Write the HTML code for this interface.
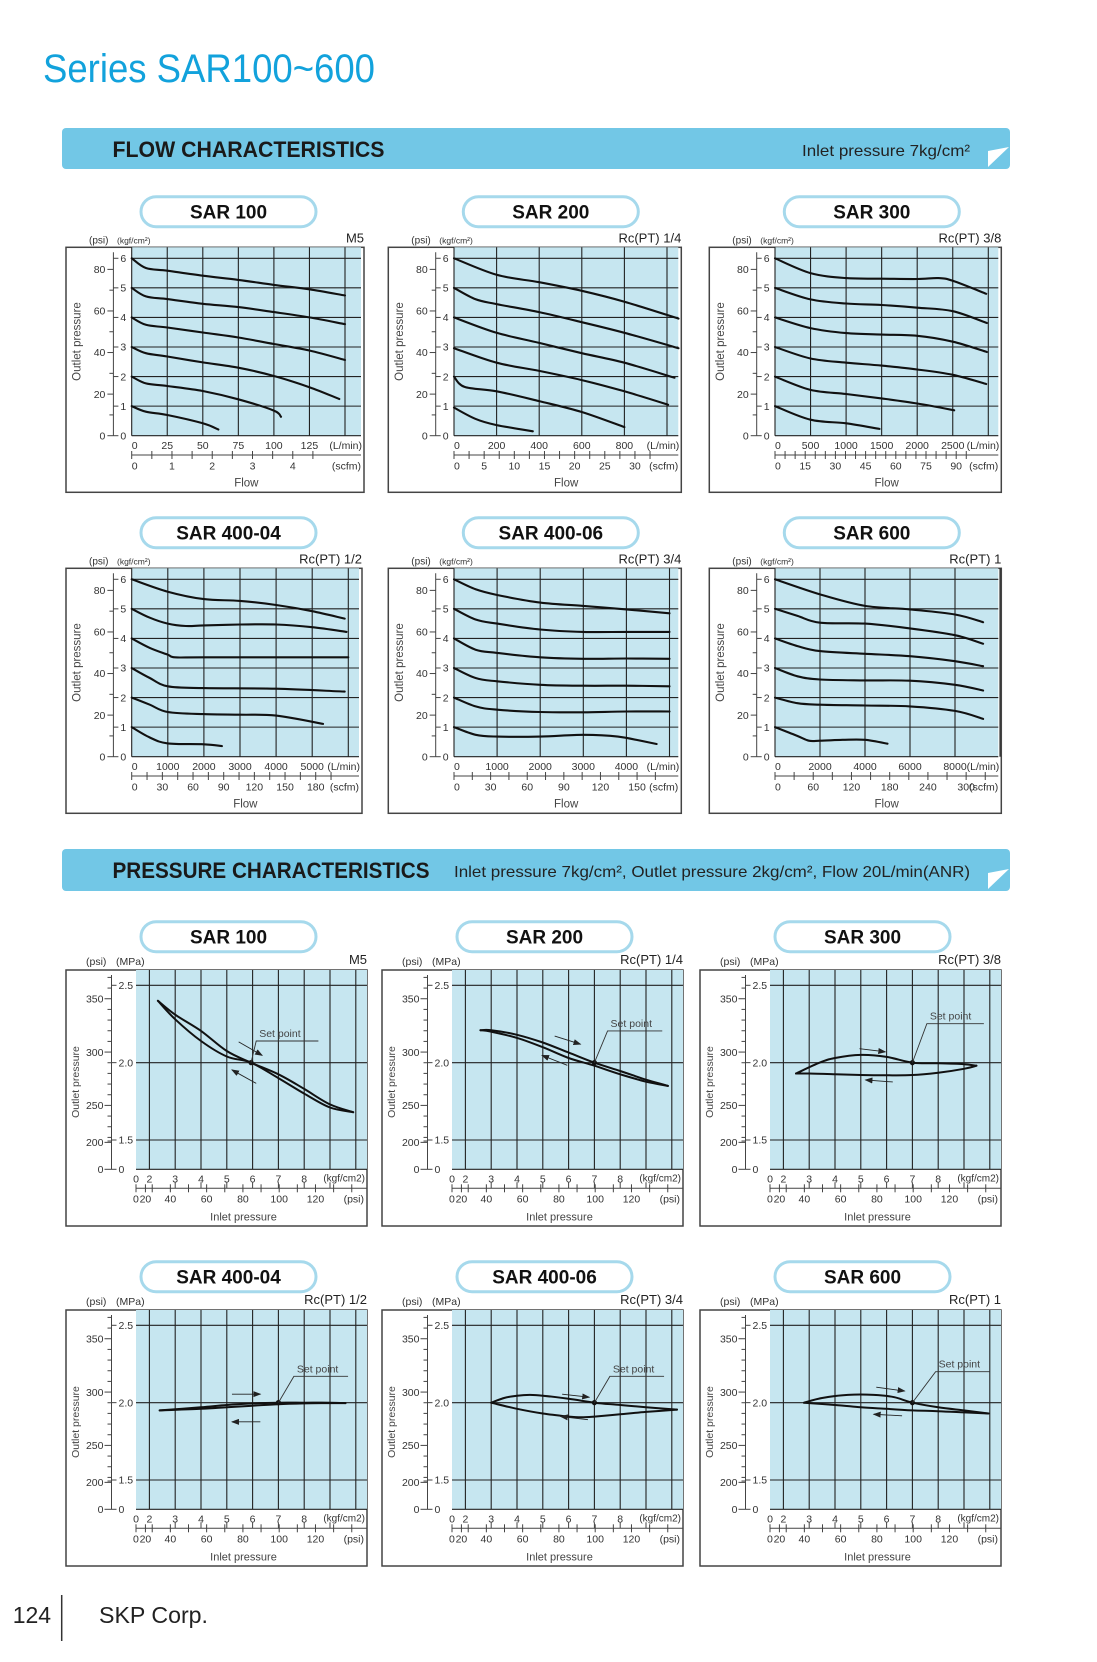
<!DOCTYPE html>
<html><head><meta charset="utf-8"><style>
html,body{margin:0;padding:0;background:#fff;}
svg{display:block;font-family:"Liberation Sans","NanumGothic",sans-serif;}
</style></head><body>
<svg id="page" xmlns="http://www.w3.org/2000/svg" width="1097" height="1662" viewBox="0 0 1097 1662">
<defs><marker id="ah" markerWidth="8" markerHeight="6" refX="7" refY="3" orient="auto" markerUnits="userSpaceOnUse"><path d="M0,0 L8,3 L0,6 z" fill="#222"/></marker></defs>
<text x="43" y="82" font-size="40" fill="#12a2dc" textLength="332" lengthAdjust="spacingAndGlyphs">Series SAR100~600</text>
<g>
<rect x="62" y="128" width="948" height="41" rx="4" fill="#72c7e6"/>
<text x="112.5" y="157" font-size="22" font-weight="bold" fill="#1a1a1a" textLength="272" lengthAdjust="spacingAndGlyphs">FLOW CHARACTERISTICS</text>
<text x="802" y="156" font-size="16" fill="#222" textLength="168" lengthAdjust="spacingAndGlyphs">Inlet pressure 7kg/cm²</text>
<polygon points="988,151 1009,147 988,167" fill="#fff"/>
</g>
<g>
<rect x="62" y="849" width="948" height="42" rx="4" fill="#72c7e6"/>
<text x="112.5" y="878" font-size="22" font-weight="bold" fill="#1a1a1a" textLength="317" lengthAdjust="spacingAndGlyphs">PRESSURE CHARACTERISTICS</text>
<text x="454" y="877" font-size="16" fill="#222" textLength="516" lengthAdjust="spacingAndGlyphs">Inlet pressure 7kg/cm², Outlet pressure 2kg/cm², Flow 20L/min(ANR)</text>
<polygon points="988,873 1009,869 988,889" fill="#fff"/>
</g>
<g>
<text x="12.7" y="1623" font-size="23" fill="#222">124</text>
<line x1="61.7" y1="1595" x2="61.7" y2="1641" stroke="#333" stroke-width="1.5"/>
<text x="99" y="1623" font-size="23" fill="#222" textLength="109" lengthAdjust="spacingAndGlyphs">SKP Corp.</text>
</g>
</svg>
<script>
// ---------- FLOW DATA (L/min, kgf/cm2) ----------
const flowSar100 = [
 [[0,6],[10,5.67],[25,5.58],[50,5.41],[75,5.27],[100,5.1],[125,4.95],[150,4.74]],
 [[0,5],[10,4.71],[25,4.62],[50,4.46],[75,4.35],[100,4.18],[125,4.0],[150,3.77]],
 [[0,4],[10,3.75],[25,3.66],[50,3.49],[75,3.32],[100,3.1],[125,2.88],[150,2.56]],
 [[0,3],[10,2.79],[25,2.68],[50,2.48],[75,2.3],[100,2.02],[125,1.64],[146,1.24]],
 [[0,2],[10,1.77],[25,1.68],[50,1.51],[75,1.23],[100,0.85],[105,0.64]],
 [[0,1],[10,0.81],[25,0.7],[50,0.42],[61,0.21]]
];
const flowSar200 = [
 [[0,6],[200,5.44],[400,5.19],[600,4.9],[800,4.53],[1054,3.96]],
 [[0,5],[100,4.62],[200,4.45],[400,4.18],[600,3.84],[800,3.48],[1054,2.96]],
 [[0,4],[200,3.48],[400,3.14],[600,2.79],[800,2.47],[1035,1.96]],
 [[0,2.96],[200,2.47],[400,2.19],[600,1.88],[800,1.5],[1005,1.05]],
 [[0,2],[50,1.65],[200,1.5],[400,1.17],[600,0.8],[800,0.29]],
 [[0,0.95],[100,0.57],[200,0.36],[370,0.15]]
];
const flowSar300 = [
 [[0,6],[500,5.5],[1000,5.33],[1500,5.31],[2000,5.3],[2300,5.33],[2500,5.24],[2970,4.8]],
 [[0,5],[500,4.61],[1000,4.47],[1500,4.42],[2000,4.33],[2500,4.21],[2980,3.81]],
 [[0,4],[500,3.64],[1000,3.47],[1500,3.42],[2000,3.38],[2500,3.18],[2980,2.83]],
 [[0,3],[500,2.61],[1000,2.47],[1500,2.37],[2000,2.24],[2500,2.06],[2970,1.75]],
 [[0,2],[500,1.55],[1000,1.41],[1500,1.26],[2000,1.09],[2520,0.86]],
 [[0,1],[500,0.54],[1000,0.42],[1470,0.23]]
];
const flowSar40004 = [
 [[0,6],[1000,5.58],[2000,5.33],[3000,5.27],[4000,5.13],[5000,4.92],[5900,4.67]],
 [[0,5],[500,4.7],[1000,4.5],[1500,4.42],[2000,4.44],[3000,4.47],[4000,4.47],[5000,4.38],[5950,4.22]],
 [[0,4],[500,3.68],[1000,3.45],[1200,3.36],[2000,3.36],[6000,3.36]],
 [[0,3],[500,2.66],[1000,2.38],[2000,2.32],[4000,2.3],[5900,2.2]],
 [[0,2],[500,1.76],[1000,1.51],[2000,1.44],[3000,1.42],[4000,1.39],[5300,1.11]],
 [[0,1],[500,0.65],[1000,0.45],[2000,0.42],[2500,0.36]]
];
const flowSar40006 = [
 [[0,6],[500,5.66],[1000,5.47],[2000,5.21],[3000,5.1],[4000,4.98],[5000,4.85]],
 [[0,5],[500,4.64],[1000,4.5],[2000,4.3],[3000,4.22],[4000,4.22],[5000,4.22]],
 [[0,4],[500,3.62],[1000,3.51],[2000,3.36],[3000,3.31],[4000,3.32],[5000,3.31]],
 [[0,3],[500,2.66],[1000,2.55],[2000,2.43],[3000,2.4],[4000,2.4],[5000,2.38]],
 [[0,2],[500,1.7],[1000,1.59],[2000,1.51],[3000,1.5],[4000,1.53],[5000,1.53]],
 [[0,1],[500,0.74],[1000,0.68],[2000,0.68],[3000,0.74],[3800,0.68],[4700,0.43]]
];
const flowSar600 = [
 [[0,6],[2000,5.49],[4000,5.1],[6000,4.98],[8000,4.81],[9250,4.55]],
 [[0,5],[1000,4.76],[2000,4.53],[4000,4.5],[6000,4.34],[8000,4.11],[9250,3.82]],
 [[0,4],[1000,3.74],[2000,3.57],[4000,3.48],[6000,3.4],[8000,3.23],[9250,3.06]],
 [[0,3],[1000,2.72],[2000,2.61],[4000,2.58],[6000,2.57],[8000,2.43],[9250,2.24]],
 [[0,2],[1000,1.81],[2000,1.76],[4000,1.73],[6000,1.7],[8000,1.55],[9250,1.28]],
 [[0,1],[1000,0.7],[1500,0.54],[2000,0.54],[3000,0.57],[4000,0.57],[5000,0.44]]
];
// tick label arrays
const sar100Lmin = [0,25,50,75,100,125];
const sar100Scfm = [0,1,2,3,4];
const sar200Lmin = [0,200,400,600,800];
const sar200Scfm = [0,5,10,15,20,25,30];
const sar300Lmin = [0,500,1000,1500,2000,2500];
const sar300Scfm = [0,15,30,45,60,75,90];
const sar40004Lmin = [0,1000,2000,3000,4000,5000];
const sar40004Scfm = [0,30,60,90,120,150,180];
const sar40006Lmin = [0,1000,2000,3000,4000];
const sar40006Scfm = [0,30,60,90,120,150];
const sar600Lmin = [0,2000,4000,6000,8000];
const sar600Scfm = [0,60,120,180,240,300];
const flowPsiTicks = [0,20,40,60,80];
const flowKgfTicks = [0,1,2,3,4,5,6];

// ---------- PRESSURE DATA (inlet kgf/cm2, outlet MPa) ----------
const presSar100Upper = [[2.33,2.40],[3,2.31],[4,2.205],[5,2.075],[5.94,2.0],[7,1.925],[8,1.83],[9,1.73],[9.9,1.68]];
const presSar100Lower = [[2.33,2.40],[3,2.28],[4,2.14],[5,2.04],[5.94,2.0],[7,1.90],[8,1.80],[9,1.71],[9.9,1.68]];
const presSar100Set = [5.94,2.0];
const presSar200Upper = [[2.58,2.21],[3,2.21],[4,2.18],[5,2.13],[6,2.065],[7,2.0],[8,1.946],[9,1.89],[9.85,1.85]];
const presSar200Lower = [[2.58,2.21],[3,2.2],[4,2.16],[5,2.1],[6,2.03],[7,1.98],[8,1.925],[9,1.877],[9.85,1.85]];
const presSar200Set = [7,2.0];
const presSar300Upper = [[2.49,1.93],[3.4,2.0],[4,2.03],[5,2.05],[6,2.037],[7,2.0],[8,1.996],[9,1.99],[9.48,1.98]];
const presSar300Lower = [[2.49,1.93],[3,1.93],[4,1.925],[5,1.92],[6,1.918],[7,1.92],[8,1.935],[9,1.96],[9.48,1.98]];
const presSar300Set = [7,2.0];
const presSar40004Upper = [[2.4,1.95],[4,1.97],[5,1.985],[6,1.995],[7,2.0],[8,2.0],[9,2.0],[9.6,1.997]];
const presSar40004Lower = [[2.4,1.95],[4,1.96],[5,1.97],[6,1.98],[7,1.99],[8,1.995],[9,1.997],[9.6,1.997]];
const presSar40004Set = [7,2.0];
const presSar40006Upper = [[3,2.0],[3.5,2.03],[4,2.045],[4.5,2.05],[5,2.045],[6,2.025],[7,2.0],[8,1.985],[9,1.97],[10.2,1.955]];
const presSar40006Lower = [[3,2.0],[4,1.96],[5,1.93],[6,1.91],[6.5,1.905],[7,1.91],[8,1.925],[9,1.94],[10.2,1.955]];
const presSar40006Set = [7,2.0];
const presSar600Upper = [[2.8,2.0],[3.5,2.03],[4.5,2.05],[5.5,2.05],[6.3,2.035],[7,2.0],[8,1.97],[9,1.95],[9.95,1.93]];
const presSar600Lower = [[2.8,2.0],[4,1.985],[5,1.97],[6,1.96],[7,1.95],[8,1.945],[9,1.937],[9.95,1.93]];
const presSar600Set = [7,2.0];
const presKgfLabels = [0,2,3,4,5,6,7,8];
const presPsiLabels = [0,20,40,60,80,100,120];
const presOutPsiLabels = [0,200,250,300,350];
const presMpaLabels = [0,1.5,2.0,2.5];

// ---------- helpers ----------
const NS='http://www.w3.org/2000/svg';
const svg=document.getElementById('page');
function mk(tag,attrs,parent){const e=document.createElementNS(NS,tag);for(const k in attrs)e.setAttribute(k,attrs[k]);(parent||svg).appendChild(e);return e;}
function tx(str,attrs,parent){const e=mk('text',attrs,parent);e.textContent=str;return e;}
function smooth(pts){let d='M'+pts[0][0].toFixed(1)+','+pts[0][1].toFixed(1);const n=pts.length;
 for(let i=0;i<n-1;i++){const p0=pts[Math.max(i-1,0)],p1=pts[i],p2=pts[i+1],p3=pts[Math.min(i+2,n-1)];
  const c1=[p1[0]+(p2[0]-p0[0])/6,p1[1]+(p2[1]-p0[1])/6],c2=[p2[0]-(p3[0]-p1[0])/6,p2[1]-(p3[1]-p1[1])/6];
  d+=' C'+c1[0].toFixed(1)+','+c1[1].toFixed(1)+' '+c2[0].toFixed(1)+','+c2[1].toFixed(1)+' '+p2[0].toFixed(1)+','+p2[1].toFixed(1);}
 return d;}
function pill(cx,top,label,parent){
 const r=mk('rect',{x:cx-87.5,y:top,width:175,height:30,rx:15,fill:'#fff',stroke:'#a6d9ec','stroke-width':3},parent);
 
 
 const t=tx(label,{x:cx,y:top+22,'font-size':19,'font-weight':'bold','text-anchor':'middle',fill:'#111'},parent);
 
 
}

// ---------- flow chart ----------
function flowChart(c){
 const g=mk('g',{});
 
 
 const x=c.x,y=c.y,w=c.w,h=245;
 const pL=x+65.7,pT=y,pR=x+w-3,pB=y+188.4,u=29.57;
 const ky=k=>pB-k*u;
 const fx=L=>pL+L/c.xStep*c.gridPx;
 pill(x+162.5,y-50.6,c.title,g);
 const box=mk('rect',{x:x,y:y,width:w,height:h,fill:'#fff',stroke:'#444','stroke-width':1.5},g);
 
 
 const pa=mk('rect',{x:pL,y:pT,width:pR-pL,height:pB-pT,fill:'#c6e6f0'},g);
 
 
 for(let k=1;k<=6;k++){const l=mk('line',{x1:pL,x2:pR,y1:ky(k),y2:ky(k),stroke:'#222','stroke-width':1.1},g);
  
  }
 for(let i=0;i<=c.nGrid;i++){const gx=pL+i*c.gridPx;const l=mk('line',{x1:gx,x2:gx,y1:pT,y2:pB,stroke:'#222','stroke-width':1.1},g);
  
  }
 mk('line',{x1:pL,x2:pR,y1:pB,y2:pB,stroke:'#222','stroke-width':1.2},g);
 // left axis
 const ax=pL-18.3;
 const al=mk('line',{x1:ax,x2:ax,y1:pT+5,y2:pB,stroke:'#444','stroke-width':1},g);
 
 
 for(let p=0;p<=85;p+=10){const yy=pB-p/14.223*u;mk('line',{x1:ax-(p%20==0?6:4),x2:ax,y1:yy,y2:yy,stroke:'#444','stroke-width':1},g);}
 flowPsiTicks.forEach(p=>{const t=tx(String(p),{x:ax-8,y:pB-p/14.223*u+3.7,'font-size':10.5,'text-anchor':'end',fill:'#333'},g);
  
  });
 flowKgfTicks.forEach(k=>{mk('line',{x1:ax,x2:ax+5,y1:ky(k),y2:ky(k),stroke:'#444','stroke-width':1},g);
  const t=tx(String(k),{x:ax+7,y:ky(k)+3.7,'font-size':10.5,fill:'#333'},g);
  
  });
 const h1=tx('(psi)',{x:pL-42.7,y:y-4,'font-size':10,fill:'#333'},g);
 
 
 const h2=tx('(kgf/cm²)',{x:pL-14.7,y:y-4,'font-size':8.5,fill:'#333'},g);
 
 
 const pt=tx(c.port,{x:x+w,y:y-5,'font-size':13,'text-anchor':'end',fill:'#222'},g);
 
 
 const yl=tx('Outlet pressure',{x:0,y:0,'font-size':11.5,'text-anchor':'middle',fill:'#444',transform:'translate('+(x+14.5)+','+(pT+(pB-pT)/2)+') rotate(-90)'},g);
 
 
 // bottom axes
 c.lmin.forEach(v=>{const t=tx(String(v),{x:fx(v),y:pB+13.5,'font-size':10.5,'text-anchor':v===0?'start':'middle',fill:'#333'},g);
  
  });
 const lu=tx('(L/min)',{x:pR+1,y:pB+13.5,'font-size':10.5,'text-anchor':'end',fill:'#333'},g);
 
 
 const sy=pB+19.3;
 const sl=mk('line',{x1:pL,x2:pR,y1:sy,y2:sy,stroke:'#444','stroke-width':1},g);
 
 
 const smax=c.scfm[c.scfm.length-1]+c.scfmMinor;
 for(let s=0;s<=smax+1e-6;s+=c.scfmMinor){const sx=fx(s*28.317);if(sx>pR)break;mk('line',{x1:sx,x2:sx,y1:sy-4,y2:sy+4,stroke:'#444','stroke-width':1},g);}
 c.scfm.forEach(s=>{const t=tx(String(s),{x:fx(s*28.317),y:pB+34,'font-size':10.5,'text-anchor':s===0?'start':'middle',fill:'#333'},g);
  
  });
 const su=tx('(scfm)',{x:pR,y:pB+34,'font-size':10.5,'text-anchor':'end',fill:'#333'},g);
 
 
 const xt=tx('Flow',{x:(pL+pR)/2,y:pB+51,'font-size':11.5,'text-anchor':'middle',fill:'#444'},g);
 
 
 c.curves.forEach((cv,i)=>{const p=mk('path',{d:smooth(cv.map(q=>[fx(q[0]),ky(q[1])])),fill:'none',stroke:'#111','stroke-width':2.1,'stroke-linecap':'round'},g);
  
  });
}
flowChart({id:'sar100',title:'SAR 100',port:'M5',x:66,y:247.3,w:298,curves:flowSar100,lmin:sar100Lmin,scfm:sar100Scfm,xStep:25,nGrid:6,gridPx:35.55,scfmMinor:0.5});
flowChart({id:'sar200',title:'SAR 200',port:'Rc(PT) 1/4',x:388.3,y:247.3,w:293,curves:flowSar200,lmin:sar200Lmin,scfm:sar200Scfm,xStep:200,nGrid:5,gridPx:42.6,scfmMinor:2.5});
flowChart({id:'sar300',title:'SAR 300',port:'Rc(PT) 3/8',x:709.3,y:247.3,w:292,curves:flowSar300,lmin:sar300Lmin,scfm:sar300Scfm,xStep:500,nGrid:6,gridPx:35.55,scfmMinor:5});
flowChart({id:'sar400-04',title:'SAR 400-04',port:'Rc(PT) 1/2',x:66,y:568.3,w:296,curves:flowSar40004,lmin:sar40004Lmin,scfm:sar40004Scfm,xStep:1000,nGrid:6,gridPx:36.1,scfmMinor:15});
flowChart({id:'sar400-06',title:'SAR 400-06',port:'Rc(PT) 3/4',x:388.3,y:568.3,w:293,curves:flowSar40006,lmin:sar40006Lmin,scfm:sar40006Scfm,xStep:1000,nGrid:5,gridPx:43.1,scfmMinor:15});
flowChart({id:'sar600',title:'SAR 600',port:'Rc(PT) 1',x:709.3,y:568.3,w:292,curves:flowSar600,lmin:sar600Lmin,scfm:sar600Scfm,xStep:2000,nGrid:5,gridPx:45,scfmMinor:30});

// ---------- pressure chart ----------
function presChart(c){
 const g=mk('g',{});
 
 
 const x=c.x,y=c.y,w=301,h=256;
 const pL=x+70,pT=y,pR=x+w,pB=y+199.3;
 const my=m=>m>=1.5?pB-29.3-(m-1.5)*154.7:pB-m/1.5*29.3;
 const kx=k=>k>=2?pL+13.4+(k-2)*25.8:pL+k*6.7;
 pill(x+162.5,y-48.3,c.title,g);
 const box=mk('rect',{x:x,y:y,width:w,height:h,fill:'#fff',stroke:'#444','stroke-width':1.5},g);
 
 
 const pa=mk('rect',{x:pL,y:pT,width:pR-pL,height:pB-pT,fill:'#c6e6f0'},g);
 
 
 [1.5,2.0,2.5].forEach(m=>{const l=mk('line',{x1:pL,x2:pR,y1:my(m),y2:my(m),stroke:'#222','stroke-width':1.1},g);
  
  });
 for(let k=2;k<=10;k++){const l=mk('line',{x1:kx(k),x2:kx(k),y1:pT,y2:pB,stroke:'#222','stroke-width':1.1},g);
  
  }
 mk('line',{x1:pL,x2:pR,y1:pB,y2:pB,stroke:'#222','stroke-width':1.2},g);
 const ax=pL-24.5;
 const al=mk('line',{x1:ax,x2:ax,y1:pT+5,y2:pB,stroke:'#444','stroke-width':1},g);
 
 
 for(let p=200;p<=370;p+=10){const yy=my(p/145.04);mk('line',{x1:ax-(p%50==0?7:4),x2:ax,y1:yy,y2:yy,stroke:'#444','stroke-width':1},g);}
 mk('line',{x1:ax-7,x2:ax,y1:pB,y2:pB,stroke:'#444','stroke-width':1},g);
 presOutPsiLabels.forEach(p=>{const yy=p===0?pB:my(p/145.04);const t=tx(String(p),{x:ax-8,y:yy+3.7,'font-size':10.5,'text-anchor':'end',fill:'#333'},g);
  
  });
 presMpaLabels.forEach(m=>{mk('line',{x1:ax,x2:ax+5,y1:my(m),y2:my(m),stroke:'#444','stroke-width':1},g);
  const t=tx(m===0?'0':m.toFixed(1),{x:ax+7,y:my(m)+3.7,'font-size':10.5,fill:'#333'},g);
  
  });
 const h1=tx('(psi)',{x:x+20,y:y-5,'font-size':10.5,fill:'#333'},g);
 
 
 const h2=tx('(MPa)',{x:x+50,y:y-5,'font-size':10.5,fill:'#333'},g);
 
 
 const pt=tx(c.port,{x:x+w,y:y-6,'font-size':13,'text-anchor':'end',fill:'#222'},g);
 
 
 const yl=tx('Outlet pressure',{x:0,y:0,'font-size':10.5,'text-anchor':'middle',fill:'#444',transform:'translate('+(x+13)+','+(pT+112)+') rotate(-90)'},g);
 
 
 presKgfLabels.forEach(k=>{const t=tx(String(k),{x:kx(k),y:pB+13,'font-size':10.5,'text-anchor':'middle',fill:'#333'},g);
  
  });
 const ku=tx('(kgf/cm2)',{x:pR-2,y:pB+12,'font-size':10,'text-anchor':'end',fill:'#333'},g);
 
 
 const sy=pB+19;
 const sl=mk('line',{x1:pL,x2:pR,y1:sy,y2:sy,stroke:'#444','stroke-width':1},g);
 
 
 const pk=p=>kx(p/14.223);
 [0].concat([20,30,40,50,60,70,80,90,100,110,120,130,140]).forEach(p=>{mk('line',{x1:pk(p),x2:pk(p),y1:sy-4,y2:sy+4,stroke:'#444','stroke-width':1},g);});
 for(let k=3;k<=9;k++)mk('line',{x1:kx(k),x2:kx(k),y1:sy-6,y2:sy,stroke:'#444','stroke-width':1},g);
 presPsiLabels.forEach(p=>{const t=tx(String(p),{x:p===0?pk(p)-3:pk(p),y:pB+33,'font-size':10.5,'text-anchor':p===0?'start':'middle',fill:'#333'},g);
  
  });
 const pu=tx('(psi)',{x:pR-3,y:pB+33,'font-size':10.5,'text-anchor':'end',fill:'#333'},g);
 
 
 const xt=tx('Inlet pressure',{x:(pL+pR)/2-8,y:pB+51,'font-size':11,'text-anchor':'middle',fill:'#444'},g);
 
 
 const up=mk('path',{d:smooth(c.upper.map(q=>[kx(q[0]),my(q[1])])),fill:'none',stroke:'#111','stroke-width':2,'stroke-linecap':'round'},g);
 
 
 const lo=mk('path',{d:smooth(c.lower.map(q=>[kx(q[0]),my(q[1])])),fill:'none',stroke:'#111','stroke-width':2,'stroke-linecap':'round'},g);
 
 
 const sp=[kx(c.set[0]),my(c.set[1])];
 const dot=mk('circle',{cx:sp[0],cy:sp[1],r:2.6,fill:'#111'},g);
 
 
 const L1=[kx(c.lead[0]),my(c.lead[1])];
 const ld=mk('polyline',{points:sp.join(',')+' '+L1.join(',')+' '+kx(c.lead[2])+','+L1[1],fill:'none',stroke:'#333','stroke-width':0.9},g);
 
 
 const st=tx('Set point',{x:L1[0]+3,y:L1[1]-4,'font-size':10.5,fill:'#444'},g);
 
 
 c.arrows.forEach(a=>{const l=mk('line',{x1:kx(a[0]),y1:my(a[1]),x2:kx(a[2]),y2:my(a[3]),stroke:'#222','stroke-width':0.9,'marker-end':'url(#ah)'},g);
  
  });
}
presChart({id:'sar100',title:'SAR 100',port:'M5',x:66,y:970,upper:presSar100Upper,lower:presSar100Lower,set:presSar100Set,lead:[6.14,2.14,8.55],arrows:[[5.46,2.134,6.37,2.047],[6.14,1.866,5.2,1.953]]});
presChart({id:'sar200',title:'SAR 200',port:'Rc(PT) 1/4',x:382,y:970,upper:presSar200Upper,lower:presSar200Lower,set:presSar200Set,lead:[7.51,2.205,9.63],arrows:[[5.46,2.172,6.46,2.119],[5.95,1.983,4.97,2.047]]});
presChart({id:'sar300',title:'SAR 300',port:'Rc(PT) 3/8',x:700,y:970,upper:presSar300Upper,lower:presSar300Lower,set:presSar300Set,lead:[7.56,2.252,9.77],arrows:[[4.95,2.09,5.95,2.07],[6.24,1.875,5.18,1.888]]});
presChart({id:'sar400-04',title:'SAR 400-04',port:'Rc(PT) 1/2',x:66,y:1310,upper:presSar40004Upper,lower:presSar40004Lower,set:presSar40004Set,lead:[7.6,2.17,9.7],arrows:[[5.2,2.055,6.3,2.055],[6.3,1.876,5.2,1.876]]});
presChart({id:'sar400-06',title:'SAR 400-06',port:'Rc(PT) 3/4',x:382,y:1310,upper:presSar40006Upper,lower:presSar40006Lower,set:presSar40006Set,lead:[7.6,2.17,9.7],arrows:[[5.75,2.055,6.8,2.035],[6.75,1.89,5.7,1.91]]});
presChart({id:'sar600',title:'SAR 600',port:'Rc(PT) 1',x:700,y:1310,upper:presSar600Upper,lower:presSar600Lower,set:presSar600Set,lead:[7.9,2.2,10.0],arrows:[[5.6,2.1,6.7,2.075],[6.6,1.915,5.5,1.925]]});
</script>
</body></html>
